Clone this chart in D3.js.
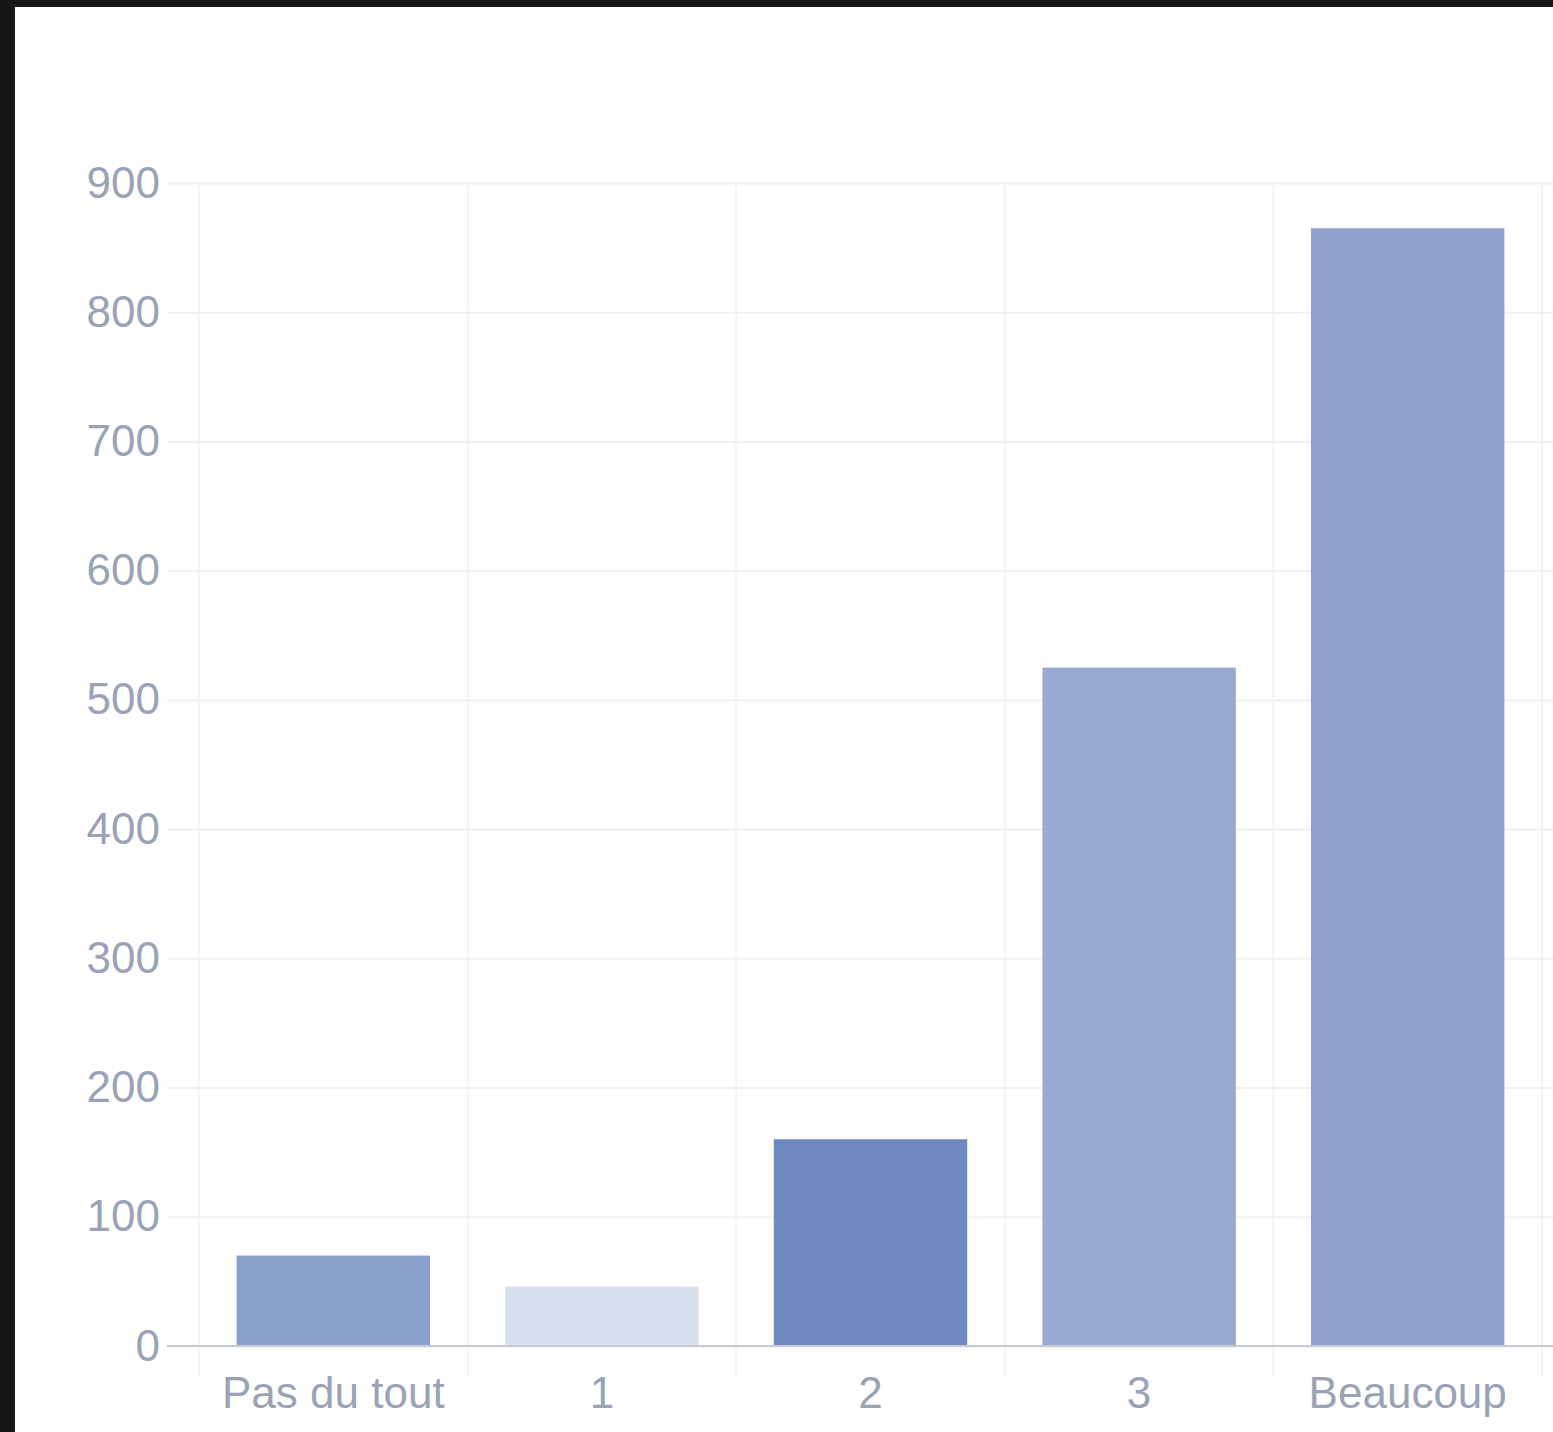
<!DOCTYPE html>
<html>
<head>
<meta charset="utf-8">
<script src="https://cdn.jsdelivr.net/npm/d3@7"></script>
<style>
html,body{margin:0;padding:0;background:#161616;}
svg{display:block;}
</style>
</head>
<body>
<svg id="chart" width="1553" height="1432"></svg>
<script>
const categories = ["Pas du tout", "1", "2", "3", "Beaucoup"];
const values = [70, 46, 160, 525, 865];
const barColors = ["#8a9fcc", "#d9dfee", "#6e89bf", "#97aacf", "#8fa3cd"];
const yTicks = [0, 100, 200, 300, 400, 500, 600, 700, 800, 900];

const svg = d3.select("#chart");
// white panel (dark frame at top/left)
svg.append("rect").attr("x", 15).attr("y", 7).attr("width", 1553 - 15).attr("height", 1432 - 7).attr("fill", "#ffffff");

const x = d3.scaleBand().domain(categories).range([199, 1542]).paddingInner(0.28).paddingOuter(0.14);
const y = d3.scaleLinear().domain([0, 900]).range([1346, 183]);

const font = "'Liberation Sans', Arial, sans-serif";
const textColor = "#9aa3b6";

// vertical grid lines at band boundaries
const bounds = categories.map(c => x(c) - x.step() * x.paddingOuter()).concat([x.range()[1]]);
svg.append("g").selectAll("line").data(bounds).join("line")
  .attr("x1", d => d).attr("x2", d => d)
  .attr("y1", y(900)).attr("y2", y(0) + 30)
  .attr("stroke", "#f3f4f6").attr("stroke-width", 2);

// horizontal grid + y axis labels
const yAxis = d3.axisLeft(y).tickValues(yTicks).tickSize(-(1553 - 167)).tickPadding(7);
const gy = svg.append("g").attr("transform", "translate(167,0)").call(yAxis);
gy.select(".domain").remove();
gy.selectAll(".tick line").attr("stroke", "#f0f1f4").attr("stroke-width", 2);
gy.selectAll(".tick text").attr("fill", textColor).attr("font-size", 44).attr("font-family", font);

// bars
svg.append("g").selectAll("rect").data(values).join("rect")
  .attr("x", (d, i) => x(categories[i]))
  .attr("y", d => y(d))
  .attr("width", x.bandwidth())
  .attr("height", d => y(0) - y(d))
  .attr("fill", (d, i) => barColors[i]);

// baseline
svg.append("line").attr("x1", 167).attr("x2", 1553).attr("y1", y(0)).attr("y2", y(0))
  .attr("stroke", "#c6cad3").attr("stroke-width", 2);

// x axis labels
const xAxis = d3.axisBottom(x).tickSize(0).tickPadding(31);
const gx = svg.append("g").attr("transform", `translate(0,${y(0)})`).call(xAxis);
gx.select(".domain").remove();
gx.selectAll(".tick text").attr("fill", textColor).attr("font-size", 44).attr("font-family", font);
</script>
</body>
</html>
